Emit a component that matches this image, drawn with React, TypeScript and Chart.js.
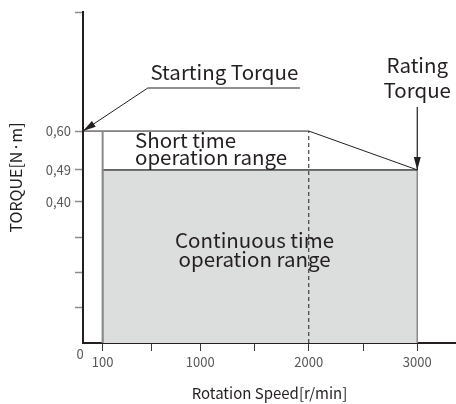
import React, { useEffect, useRef } from "react";
import { Chart, registerables } from "chart.js";

Chart.register(...registerables);

// ---- data ----
const SPEED_LOW = 100;
const SPEED_CORNER = 2000;
const SPEED_RATED = 3000;
const TORQUE_START = 0.6;
const TORQUE_RATED = 0.49;

const X_MIN = -81;
const X_MAX = 3357;
const Y_MAX = 0.937;

const X_TICKS = [100, 550, 1000, 1500, 2000, 2500, 3000];
const X_TICK_LABELS = ["100", "", "1000", "", "2000", "", "3000"];
const Y_TICKS = [0.1, 0.2, 0.3, 0.4, 0.49, 0.6, Y_MAX];
const Y_TICK_LABELS = ["", "", "", "0,40", "0,49", "0,60", ""];

const X_TITLE = "Rotation Speed[r/min]";
const Y_TITLE = "TORQUE[N·m]";
const ORIGIN_LABEL = "0";

const FONT = "'Noto Sans CJK KR', 'Noto Sans', sans-serif";
const TEXT = "#231f20";
const FILL = "#dcdddd";

// annotation anchor points (data coordinates)
const NOTES = {
  starting: { text: "Starting Torque", x: 1222, y: 0.745, lineY: 0.722, lineX0: 517, lineX1: 1918 },
  rating: { lines: ["Rating", "Torque"], x: SPEED_RATED, ys: [0.764, 0.694], leaderY: 0.668 },
  short: { lines: ["Short time", "operation range"], x: 398, ys: [0.552, 0.504] },
  cont: { lines: ["Continuous time", "operation range"], x: 1500, ys: [0.269, 0.215] },
};

function arrow(ctx: CanvasRenderingContext2D, x0: number, y0: number, x1: number, y1: number) {
  ctx.beginPath();
  ctx.moveTo(x0, y0);
  ctx.lineTo(x1, y1);
  ctx.stroke();
  const ang = Math.atan2(y1 - y0, x1 - x0);
  const len = 13;
  const hw = 3.5;
  const bx = x1 - Math.cos(ang) * len;
  const by = y1 - Math.sin(ang) * len;
  ctx.beginPath();
  ctx.moveTo(x1, y1);
  ctx.lineTo(bx + Math.sin(ang) * hw, by - Math.cos(ang) * hw);
  ctx.lineTo(bx - Math.sin(ang) * hw, by + Math.cos(ang) * hw);
  ctx.closePath();
  ctx.fill();
}

const annotatePlugin = {
  id: "annotate",
  afterDraw(chart: any) {
    const { ctx, scales } = chart;
    const xs = scales.x;
    const ys = scales.y;
    const px = (v: number) => xs.getPixelForValue(v);
    const py = (v: number) => ys.getPixelForValue(v);
    ctx.save();
    ctx.fillStyle = TEXT;
    ctx.strokeStyle = TEXT;
    ctx.font = `20.5px ${FONT}`;
    ctx.textBaseline = "alphabetic";

    // Starting torque
    const s = NOTES.starting;
    ctx.textAlign = "center";
    ctx.fillText(s.text, px(s.x), py(s.y));
    ctx.strokeStyle = "#6d6d6d";
    ctx.lineWidth = 1.5;
    ctx.beginPath();
    ctx.moveTo(px(s.lineX0), py(s.lineY));
    ctx.lineTo(px(s.lineX1), py(s.lineY));
    ctx.stroke();
    ctx.strokeStyle = TEXT;
    ctx.lineWidth = 1;
    arrow(ctx, px(s.lineX0), py(s.lineY), px(X_MIN), py(TORQUE_START));

    // Rating torque
    const r = NOTES.rating;
    r.lines.forEach((t, i) => ctx.fillText(t, px(r.x), py(r.ys[i])));
    ctx.lineWidth = 1.2;
    arrow(ctx, px(r.x), py(r.leaderY), px(SPEED_RATED), py(TORQUE_RATED));

    // Short time
    const sh = NOTES.short;
    ctx.textAlign = "left";
    sh.lines.forEach((t, i) => ctx.fillText(t, px(sh.x), py(sh.ys[i])));

    // Continuous
    const c = NOTES.cont;
    ctx.textAlign = "center";
    c.lines.forEach((t, i) => ctx.fillText(t, px(c.x), py(c.ys[i])));

    // origin label
    ctx.font = `13px ${FONT}`;
    ctx.fillStyle = "#595757";
    ctx.textBaseline = "middle";
    ctx.fillText(ORIGIN_LABEL, chart.chartArea.left - 3, chart.chartArea.bottom + 11);
    ctx.restore();
  },
};

export default function App() {
  const ref = useRef<HTMLCanvasElement>(null);
  useEffect(() => {
    if (!ref.current) return;
    const chart = new Chart(ref.current, {
      type: "scatter",
      data: {
        datasets: [
          {
            data: [
              { x: SPEED_LOW, y: 0 },
              { x: SPEED_LOW, y: TORQUE_RATED },
              { x: SPEED_RATED, y: TORQUE_RATED },
              { x: SPEED_RATED, y: 0 },
            ],
            showLine: true,
            fill: "origin",
            backgroundColor: FILL,
            borderColor: "#8a8a8a",
            borderWidth: 1.5,
            pointRadius: 0,
            order: 10,
          },
          {
            data: [
              { x: SPEED_LOW, y: TORQUE_RATED },
              { x: SPEED_RATED, y: TORQUE_RATED },
            ],
            showLine: true,
            borderColor: "#4a4a4a",
            borderWidth: 1.2,
            pointRadius: 0,
            order: 5,
          },
          {
            data: [
              { x: X_MIN, y: TORQUE_START },
              { x: SPEED_CORNER, y: TORQUE_START },
              { x: SPEED_RATED, y: TORQUE_RATED },
            ],
            showLine: true,
            borderColor: TEXT,
            borderWidth: 1,
            pointRadius: 0,
            order: 4,
          },
          {
            data: [
              { x: SPEED_LOW, y: 0 },
              { x: SPEED_LOW, y: TORQUE_START },
            ],
            showLine: true,
            borderColor: "#8a8a8a",
            borderWidth: 2,
            pointRadius: 0,
            order: 3,
          },
          {
            data: [
              { x: SPEED_CORNER, y: 0 },
              { x: SPEED_CORNER, y: TORQUE_START },
            ],
            showLine: true,
            borderColor: TEXT,
            borderWidth: 1,
            borderDash: [4, 3],
            pointRadius: 0,
            order: 2,
          },
        ],
      },
      options: {
        animation: false,
        responsive: false,
        devicePixelRatio: 1,
        layout: { padding: { top: 12, right: 0, left: 0, bottom: 0 } },
        plugins: { legend: { display: false }, tooltip: { enabled: false } },
        scales: {
          x: {
            type: "linear",
            min: X_MIN,
            max: X_MAX,
            z: 1,
            afterFit: (s: any) => {
              s.height = 61;
            },
            afterBuildTicks: (s: any) => {
              s.ticks = X_TICKS.map((v) => ({ value: v }));
            },
            ticks: {
              autoSkip: false,
              maxRotation: 0,
              padding: 3,
              color: "#595757",
              font: { family: FONT, size: 13 },
              callback: (v: any) => {
                const i = X_TICKS.indexOf(Number(v));
                return i >= 0 ? X_TICK_LABELS[i] : "";
              },
            },
            grid: {
              drawOnChartArea: false,
              drawTicks: true,
              tickLength: 8,
              tickColor: "#3a3a3a",
              tickWidth: 1,
            },
            border: { display: true, color: TEXT, width: 2 },
            title: {
              display: true,
              text: X_TITLE,
              color: TEXT,
              font: { family: FONT, size: 15 },
              padding: { top: 0, bottom: 2 },
            },
          },
          y: {
            type: "linear",
            min: 0,
            max: Y_MAX,
            z: 1,
            afterFit: (s: any) => {
              s.width = 83;
            },
            afterBuildTicks: (s: any) => {
              s.ticks = Y_TICKS.map((v) => ({ value: v }));
            },
            ticks: {
              autoSkip: false,
              padding: 4,
              color: "#595757",
              font: { family: FONT, size: 13 },
              callback: (v: any) => {
                const i = Y_TICKS.indexOf(Number(v));
                return i >= 0 ? Y_TICK_LABELS[i] : "";
              },
            },
            grid: {
              drawOnChartArea: false,
              drawTicks: true,
              tickLength: 8,
              tickColor: "#8c8c8c",
              tickWidth: 1.5,
            },
            border: { display: true, color: TEXT, width: 2 },
            title: {
              display: true,
              text: Y_TITLE,
              color: TEXT,
              font: { family: FONT, size: 16 },
              padding: { top: 6, bottom: 0 },
            },
          },
        },
      },
      plugins: [annotatePlugin],
    } as any);
    return () => chart.destroy();
  }, []);
  return (
    <div style={{ position: "fixed", left: 0, top: 0, width: 456, height: 404, background: "#fff" }}>
      <canvas ref={ref} width={456} height={404} />
    </div>
  );
}
